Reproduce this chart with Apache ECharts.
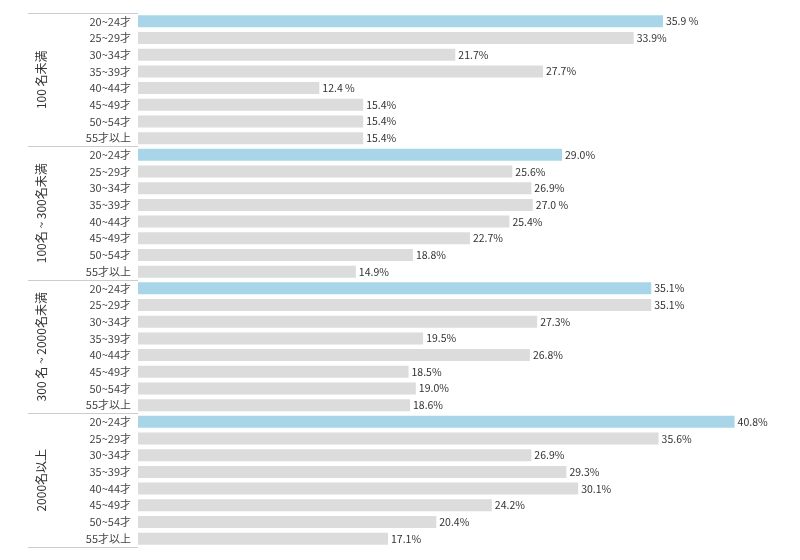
<!DOCTYPE html>
<html><head><meta charset="utf-8">
<script src="https://cdn.jsdelivr.net/npm/echarts@6/dist/echarts.min.js"></script>
<style>html,body{margin:0;padding:0;background:#fff}#c{width:800px;height:560px}</style>
</head><body><div id="c"></div>
<script>
const groups = ['100 名未満', '100名 ~ 300名未満', '300 名 ~ 2000名未満', '2000名以上'];
const ageLabels = ['20~24才', '25~29才', '30~34才', '35~39才', '40~44才', '45~49才', '50~54才', '55才以上'];
const values100 = [35.9, 33.9, 21.7, 27.7, 12.4, 15.4, 15.4, 15.4];
const values100to300 = [29.0, 25.6, 26.9, 27.0, 25.4, 22.7, 18.8, 14.9];
const values300to2000 = [35.1, 35.1, 27.3, 19.5, 26.8, 18.5, 19.0, 18.6];
const values2000 = [40.8, 35.6, 26.9, 29.3, 30.1, 24.2, 20.4, 17.1];
const labels100 = ['35.9 %', '33.9%', '21.7%', '27.7%', '12.4 %', '15.4%', '15.4%', '15.4%'];
const labels100to300 = ['29.0%', '25.6%', '26.9%', '27.0 %', '25.4%', '22.7%', '18.8%', '14.9%'];
const labels300to2000 = ['35.1%', '35.1%', '27.3%', '19.5%', '26.8%', '18.5%', '19.0%', '18.6%'];
const labels2000 = ['40.8%', '35.6%', '26.9%', '29.3%', '30.1%', '24.2%', '20.4%', '17.1%'];

const allValues = [values100, values100to300, values300to2000, values2000];
const allLabels = [labels100, labels100to300, labels300to2000, labels2000];
const cats = [], vals = [], texts = [];
allValues.forEach((arr, g) => arr.forEach((v, i) => {
  cats.push(g + '|' + i); vals.push(v); texts.push(allLabels[g][i]);
}));

const FONT = '"Noto Sans CJK JP", "Noto Sans", sans-serif';
const chart = echarts.init(document.getElementById('c'));
chart.setOption({
  animation: false,
  grid: { left: 138, right: 4, top: 13, bottom: 13, containLabel: false },
  xAxis: { type: 'value', min: 0, max: 45, show: false },
  yAxis: [
    {
      type: 'category', data: cats, inverse: true,
      axisLine: { show: false }, axisTick: { show: false },
      axisLabel: {
        interval: 0, hideOverlap: false,
        margin: 7, fontSize: 11, color: '#444', fontFamily: FONT,
        formatter: v => ageLabels[+v.split('|')[1]]
      }
    },
    {
      type: 'category', data: groups, inverse: true, position: 'left', gridIndex: 0,
      axisLine: { show: false },
      axisTick: { show: true, interval: 0, length: 110, lineStyle: { color: '#cccccc', width: 1 } },
      axisLabel: { interval: 0, hideOverlap: false, rotate: 90, margin: 91, fontSize: 12, color: '#333', fontFamily: FONT }
    }
  ],
  series: [{
    type: 'bar', data: vals, yAxisIndex: 0, barCategoryGap: '28%',
    itemStyle: { color: p => p.dataIndex % 8 === 0 ? '#a8d6e8' : '#dcdcdc' },
    label: {
      show: true, position: 'right', distance: 3, fontSize: 10.5, color: '#333', fontFamily: FONT,
      formatter: p => texts[p.dataIndex]
    }
  }]
});
</script></body></html>
